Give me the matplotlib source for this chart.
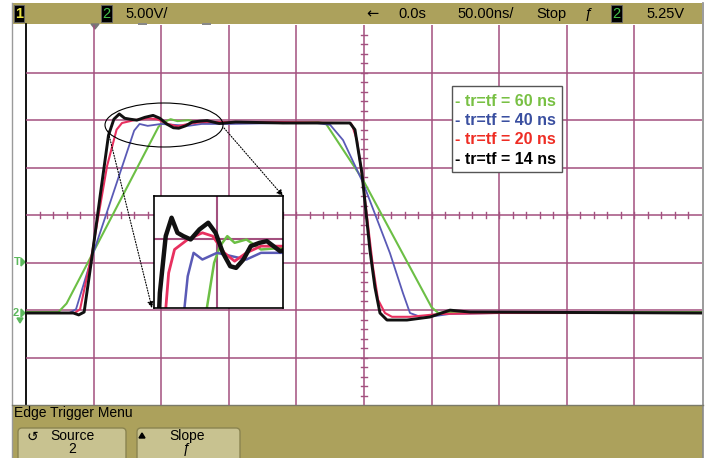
import numpy as np
import matplotlib.pyplot as plt
from matplotlib.patches import Rectangle, FancyBboxPatch, Ellipse

# Scope traces: time in ns (50 ns/div), voltage in V (5 V/div)
t_green = [-250, -226, -220, -152, -148, -143, -138, -130, -120, -90, -60, -34, -28, -0.7, 50, 55, 60, 100, 250]
v_green = [0.1, 0.1, 1.0, 19.6, 20.1, 20.4, 20.2, 20.3, 20.0, 20.1, 20.0, 20.1, 19.9, 14.0, 0.6, 0.0, 0.1, 0.1, 0.1]

t_blue = [-250, -218, -213, -201.2, -170, -166, -160, -150, -140, -130, -120, -100, -60, -35, -25, -15.5, -0.7,
          19.2, 28.8, 34, 43.6, 63.6, 100, 250]
v_blue = [0.0, 0.0, 0.4, 5.9, 19.2, 19.9, 19.7, 19.9, 19.8, 19.7, 19.9, 19.9, 20.0, 20.0, 19.8, 18.2, 13.7,
          6.3, 2.1, 0.0, -0.5, -0.1, 0.0, 0.0]

t_red = [-250, -214, -210, -201.2, -190, -183, -179, -170, -160, -153, -145, -138, -130, -120, -60, -10, -8.9,
         -5.2, -0.7, 6.7, 10.4, 15.5, 20.7, 34, 56, 100, 250]
v_red = [0.0, 0.0, 0.4, 6.3, 15.5, 19.3, 20.0, 20.3, 20.5, 20.4, 19.9, 19.65, 19.9, 20.1, 20.1, 20.0, 19.8,
         18.2, 13.7, 4.8, 1.4, 0.0, -0.4, -0.4, -0.1, 0.0, 0.0]

t_black = [-250, -215, -211, -207, -201.2, -195, -189, -185, -181, -177, -173, -168, -162, -156, -151, -146,
           -141, -137, -132, -127, -121, -116, -107, -95, -60, -10.4, -6.7, -1.5, 4.4, 8.1, 11.8, 17, 31.8,
           48.8, 63.6, 78.4, 250]
v_black = [0.0, 0.0, -0.2, 0.1, 5.9, 12.5, 18.7, 20.4, 20.95, 20.5, 20.4, 20.3, 20.6, 20.8, 20.5, 19.9,
           19.5, 19.45, 19.7, 20.1, 20.2, 20.25, 19.95, 20.1, 20.0, 20.0, 19.3, 14.7, 6.6, 2.7, 0.0, -0.74, -0.74,
           -0.42, 0.3, 0.1, 0.0]

legend_labels = ['- tr=tf = 60 ns', '- tr=tf = 40 ns', '- tr=tf = 20 ns', '- tr=tf = 14 ns']
legend_colors = ['#78c043', '#3a4fa0', '#ee2d24', '#000000']

trace_colors = ['#6cbf45', '#5a5ab6', '#e8305f', '#111111']
traces = [(t_green, v_green), (t_blue, v_blue), (t_red, v_red), (t_black, v_black)]

W, H = 708, 458
olive = '#aca15c'
grid_c = '#a3507f'
plt.rcParams['font.family'] = ['Liberation Sans', 'DejaVu Sans']


def frame(x0, y0, x1, y1):
    return [x0 / W, 1 - y1 / H, (x1 - x0) / W, (y1 - y0) / H]


fig = plt.figure(figsize=(W / 100, H / 100), dpi=100)

# background chrome of the scope screen
bg = fig.add_axes([0, 0, 1, 1], zorder=0)
bg.set_xlim(0, W)
bg.set_ylim(H, 0)
bg.axis('off')
bg.add_patch(Rectangle((12, 3), 690, 21, fc=olive, ec='none'))
bg.add_patch(Rectangle((12, 405), 691, 53, fc=olive, ec='none'))
bg.plot([12, 12], [3, 458], color='#9a9a9a', lw=1)
bg.plot([702.5, 702.5], [3, 458], color='#8a8a8a', lw=1.2)
bg.plot([26, 26], [24, 405], color='k', lw=1.3)
bg.plot([12, 703], [405, 405], color='#7a7a6a', lw=1)

# top status bar
bg.add_patch(Rectangle((14, 5), 10, 17, fc='k', ec='#666', lw=0.6))
bg.text(19, 14, '1', color='#e8e040', fontsize=10.5, ha='center', va='center', fontweight='bold')
bg.add_patch(Rectangle((101, 5), 11, 17, fc='k', ec='#666', lw=0.6))
bg.text(106.5, 14, '2', color='#45c04a', fontsize=10.5, ha='center', va='center')
bg.text(125, 14, '5.00V/', fontsize=10.5, va='center')
bg.text(366, 14, '←', fontsize=10.5, va='center', family='DejaVu Sans')
bg.text(398, 14, '0.0s', fontsize=10.5, va='center')
bg.text(457, 14, '50.00ns/', fontsize=10.5, va='center')
bg.text(536, 14, 'Stop', fontsize=10.5, va='center')
bg.text(585, 14, 'ƒ', fontsize=10.5, va='center')
bg.add_patch(Rectangle((611, 5), 11, 17, fc='k', ec='#666', lw=0.6))
bg.text(616.5, 14, '2', color='#45c04a', fontsize=10.5, ha='center', va='center')
bg.text(646, 14, '5.25V', fontsize=10.5, va='center')
bg.add_patch(Rectangle((138, 23), 9, 2, fc='#888', ec='none'))
bg.add_patch(Rectangle((202, 23), 9, 2, fc='#888', ec='none'))
bg.fill([91, 99, 95], [24, 24, 29], color='#777')

# channel / trigger markers on the left
bg.text(17, 262, 'T', color='#5cb85c', fontsize=8, va='center', ha='center', fontweight='bold')
bg.fill([21, 25, 21], [258, 262, 266], color='#5cb85c')
bg.text(16, 313, '2', color='#5cb85c', fontsize=8, va='center', ha='center', fontweight='bold')
bg.fill([21, 25, 21], [309, 313, 317], color='#5cb85c')
bg.fill([17, 23, 20], [318, 318, 323], color='#5cb85c')

# bottom menu
bg.text(14, 413, 'Edge Trigger Menu', fontsize=10, va='center')
bg.add_patch(FancyBboxPatch((18, 428), 108, 40, boxstyle='round,pad=0,rounding_size=4',
                            fc='#c8c290', ec='#8a8450', lw=1))
bg.add_patch(FancyBboxPatch((137, 428), 103, 40, boxstyle='round,pad=0,rounding_size=4',
                            fc='#c8c290', ec='#8a8450', lw=1))
bg.text(32, 437, '↺', fontsize=10, ha='center', va='center', family='DejaVu Sans')
bg.text(72, 436, 'Source', fontsize=10, ha='center', va='center')
bg.text(72, 449, '2', fontsize=10, ha='center', va='center')
bg.fill([139, 145, 142], [438, 438, 433], color='k')
bg.text(187, 436, 'Slope', fontsize=10, ha='center', va='center')
bg.text(187, 449, 'ƒ', fontsize=10, ha='center', va='center')

# main graticule and traces
ax = fig.add_axes(frame(26, 25, 702, 405), zorder=1)
ax.set_facecolor('none')
ax.set_xlim(-250, 250)
ax.set_ylim(-9.684, 30.316)
ax.set_xticks([])
ax.set_yticks([])
for s in ax.spines.values():
    s.set_visible(False)
for tv in np.arange(-200, 201, 50):
    ax.axvline(tv, color=grid_c, lw=1.1, zorder=1)
for vv in -9.684 + 5 * np.arange(1, 8):
    ax.axhline(vv, color=grid_c, lw=1.1, zorder=1)
vc = 10.316
for tt in np.arange(-240, 250, 10):
    ax.plot([tt, tt], [vc - 0.35, vc + 0.35], color=grid_c, lw=1, zorder=1)
for vt in np.arange(-8.684, 30, 1):
    ax.plot([-2.2, 2.2], [vt, vt], color=grid_c, lw=1, zorder=1)

widths = [1.5, 1.3, 1.5, 2.1]
for (tt, vv), c, w in zip(traces, trace_colors, widths):
    ax.plot(tt, vv, color=c, lw=w, zorder=2)

# ellipse, arrows, legend box
ov = fig.add_axes([0, 0, 1, 1], zorder=3)
ov.set_facecolor('none')
ov.set_xlim(0, W)
ov.set_ylim(H, 0)
ov.axis('off')
ov.add_patch(Ellipse((164, 125), 118, 44, fill=False, ec='k', lw=0.8))
for p0, p1 in [((108, 131), (152, 308)), ((224, 128), (283, 196))]:
    ov.annotate('', xy=p1, xytext=p0,
                arrowprops=dict(arrowstyle='-|>', color='k', lw=0.8, linestyle=(0, (1, 1.5)),
                                mutation_scale=9, shrinkA=0, shrinkB=0))
ov.add_patch(Rectangle((452, 86), 110, 86, fc='white', ec='#555', lw=1))
for i, (lab, c) in enumerate(zip(legend_labels, legend_colors)):
    ov.text(455, 101 + i * 19.5, lab, color=c, fontsize=11.5, fontweight='bold', va='center')

# zoomed inset of the overshoot region
ins = fig.add_axes(frame(154, 196, 283, 308), zorder=4)
ins.set_facecolor('white')
ins.set_xlim(-193, -105)
ins.set_ylim(18.25, 21.6)
ins.set_xticks([])
ins.set_yticks([])
for s in ins.spines.values():
    s.set_color('k')
    s.set_linewidth(1.2)
ins.axvline(-150, color=grid_c, lw=1.5, zorder=1)
ins.axhline(20.316, color=grid_c, lw=1.5, zorder=1)
for (tt, vv), c, w in zip(traces, trace_colors, [1.8, 1.8, 2.0, 3.2]):
    ins.plot(tt, vv, color=c, lw=w, zorder=2)

fig.savefig('out.png', dpi=100)
